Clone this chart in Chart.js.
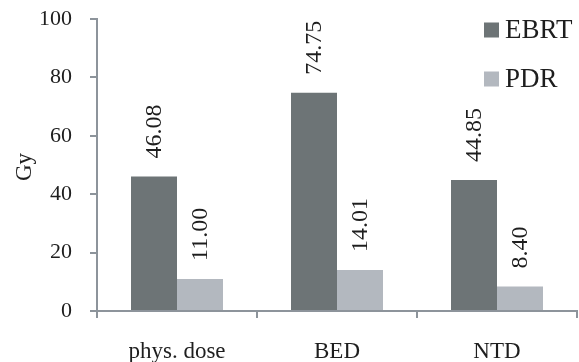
<!DOCTYPE html>
<html>
<head>
<meta charset="utf-8">
<script src="https://cdn.jsdelivr.net/npm/chart.js@4.4.1/dist/chart.umd.min.js"></script>
<style>
  html, body { margin: 0; padding: 0; background: #fff; }
  #wrap { width: 579px; height: 362px; position: relative; }
</style>
</head>
<body>
<div id="wrap"><canvas id="c" width="579" height="362"></canvas></div>
<script>
// Dose comparison per quantity
const categories = ['phys. dose', 'BED', 'NTD'];
const ebrtValues = [46.08, 74.75, 44.85];
const pdrValues = [11.00, 14.01, 8.40];
const valueLabels = [['46.08', '74.75', '44.85'], ['11.00', '14.01', '8.40']];
const seriesNames = ['EBRT', 'PDR'];
const yTicks = [0, 20, 40, 60, 80, 100];

const SERIF = '"Liberation Serif", "Times New Roman", serif';
const TEXT = '#1e1e1e';
const AXIS = '#8d949b';
const COLORS = ['#6d7476', '#b3b8bf'];

// Rotated value labels above each bar, y-axis title and a legend in the upper right
const extras = {
  id: 'extras',
  afterDatasetsDraw(chart) {
    const ctx = chart.ctx;
    ctx.save();
    ctx.fillStyle = TEXT;
    ctx.font = '24px ' + SERIF;
    ctx.textBaseline = 'middle';
    ctx.textAlign = 'left';
    chart.data.datasets.forEach((ds, di) => {
      const meta = chart.getDatasetMeta(di);
      meta.data.forEach((bar, i) => {
        ctx.save();
        ctx.translate(bar.x, bar.y - 18);
        ctx.rotate(-Math.PI / 2);
        ctx.fillText(valueLabels[di][i], 0, 1);
        ctx.restore();
      });
    });
    // axis title
    ctx.save();
    ctx.font = '23px ' + SERIF;
    ctx.textAlign = 'center';
    ctx.translate(25, 167);
    ctx.rotate(-Math.PI / 2);
    ctx.fillText('Gy', 0, 0);
    ctx.restore();
    // legend
    ctx.font = '27px ' + SERIF;
    ctx.textAlign = 'left';
    const rows = [30, 79];
    chart.data.datasets.forEach((ds, di) => {
      ctx.fillStyle = ds.backgroundColor;
      ctx.fillRect(484, rows[di] - 7.5, 15, 15);
      ctx.fillStyle = TEXT;
      ctx.fillText(ds.label, 505, rows[di] + 1);
    });
    ctx.restore();
  }
};

new Chart(document.getElementById('c'), {
  type: 'bar',
  data: {
    labels: categories,
    datasets: [
      { label: seriesNames[0], data: ebrtValues, backgroundColor: COLORS[0] },
      { label: seriesNames[1], data: pdrValues, backgroundColor: COLORS[1] }
    ]
  },
  options: {
    responsive: false,
    animation: false,
    devicePixelRatio: 1,
    layout: { padding: { top: 19, right: 2, left: 0, bottom: 0 } },
    plugins: { legend: { display: false }, tooltip: { enabled: false } },
    datasets: { bar: { categoryPercentage: 0.575, barPercentage: 1.0 } },
    scales: {
      x: {
        grid: { display: true, drawOnChartArea: false, drawTicks: true, tickLength: 7, color: AXIS, lineWidth: 2, offset: true },
        border: { display: true, color: AXIS, width: 2 },
        ticks: { color: TEXT, font: { family: SERIF, size: 23 }, padding: 20 },
        afterFit(scale) { scale.height = 51; }
      },
      y: {
        min: 0,
        max: 100,
        afterBuildTicks(scale) { scale.ticks = yTicks.map(v => ({ value: v })); },
        grid: { display: true, drawOnChartArea: false, drawTicks: true, tickLength: 7, color: AXIS, lineWidth: 2 },
        border: { display: true, color: AXIS, width: 2 },
        ticks: { color: TEXT, font: { family: SERIF, size: 22 }, padding: 18 },
        afterFit(scale) {
          scale.width = 97;
          scale.paddingTop = 0;
          scale.paddingBottom = 0;
        }
      }
    }
  },
  plugins: [extras]
});
</script>
</body>
</html>
